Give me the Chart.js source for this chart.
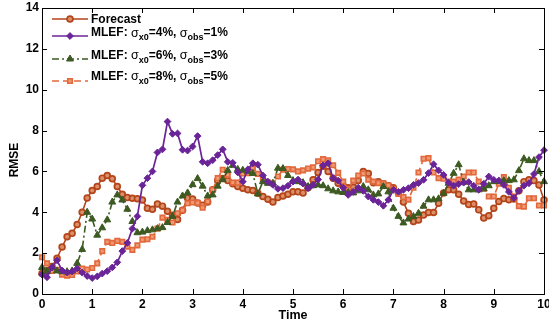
<!DOCTYPE html>
<html>
<head>
<meta charset="utf-8">
<script src="https://cdn.jsdelivr.net/npm/chart.js@4.4.1/dist/chart.umd.min.js"></script>
<style>
  html, body { margin: 0; padding: 0; background: #fff; }
  #wrap { width: 549px; height: 325px; position: relative; }
</style>
</head>
<body>
<div id="wrap"><canvas id="c" width="549" height="325"></canvas></div>
<script>
const times = [0,0.1,0.2,0.3,0.4,0.5,0.6,0.7,0.8,0.9,
  1,1.1,1.2,1.3,1.4,1.5,1.6,1.7,1.8,1.9,
  2,2.1,2.2,2.3,2.4,2.5,2.6,2.7,2.8,2.9,
  3,3.1,3.2,3.3,3.4,3.5,3.6,3.7,3.8,3.9,
  4,4.1,4.2,4.3,4.4,4.5,4.6,4.7,4.8,4.9,
  5,5.1,5.2,5.3,5.4,5.5,5.6,5.7,5.8,5.9,
  6,6.1,6.2,6.3,6.4,6.5,6.6,6.7,6.8,6.9,
  7,7.1,7.2,7.3,7.4,7.5,7.6,7.7,7.8,7.9,
  8,8.1,8.2,8.3,8.4,8.5,8.6,8.7,8.8,8.9,
  9,9.1,9.2,9.3,9.4,9.5,9.6,9.7,9.8,9.9,
  10];

const forecast = [1.0,1.15,1.35,1.75,2.3,2.8,2.97,3.4,4.0,4.7,
  5.07,5.26,5.67,5.8,5.64,5.26,4.88,4.72,4.69,4.66,
  4.6,4.2,4.15,4.4,4.3,4.05,3.85,3.65,4.1,4.7,
  4.65,4.45,4.35,4.5,5.1,5.55,5.65,5.55,5.4,5.26,
  5.18,5.1,5.07,4.93,4.77,4.64,4.5,4.72,4.8,4.88,
  5.0,5.0,4.95,5.2,5.59,5.95,6.25,6.0,5.67,5.42,
  5.3,5.2,5.22,5.55,6.0,5.9,5.45,5.5,5.4,5.3,
  5.2,4.95,4.5,3.95,3.55,3.62,3.87,3.99,3.99,4.44,
  4.95,5.1,5.1,4.88,4.55,4.38,4.4,4.12,3.72,3.83,
  4.2,4.53,4.67,4.61,4.65,5.05,5.5,5.59,5.55,5.34,
  4.6];

const mlef4_1 = [0.95,0.82,1.3,1.65,1.15,1.05,1.1,1.25,1.05,0.88,
  0.78,0.86,1.0,1.12,1.3,1.55,2.1,2.5,3.2,3.8,
  5.32,5.67,6.0,6.93,7.08,8.44,7.84,7.86,7.06,7.02,
  7.22,7.73,6.47,6.4,6.55,6.8,7.08,6.47,6.42,5.95,
  5.5,6.1,6.4,6.33,5.8,5.5,5.34,5.15,5.18,5.3,
  5.5,5.6,5.4,5.18,5.34,5.6,6.3,6.4,5.67,5.55,
  5.2,4.85,5.0,5.2,5.05,4.77,4.61,4.5,4.32,4.61,
  5.1,5.0,5.1,5.18,5.34,5.43,5.59,5.92,6.35,6.05,
  5.83,5.45,5.3,5.38,5.45,5.48,5.3,5.1,5.4,5.75,
  5.59,5.55,5.34,5.0,4.7,5.05,5.3,5.42,5.87,6.7,
  7.04];

const mlef6_3 = [1.3,1.1,1.3,1.13,1.09,1.09,1.13,1.5,2.18,4.0,
  3.67,2.88,3.24,3.63,4.5,4.85,4.6,4.15,3.55,3.0,
  3.03,3.1,3.14,3.2,3.25,3.5,3.8,4.5,4.8,4.95,
  5.35,5.65,5.28,4.8,4.85,5.28,5.6,6.05,6.3,6.1,
  6.06,6.0,5.9,4.9,5.5,5.42,5.42,6.16,6.14,5.8,
  5.55,5.5,5.45,5.26,5.3,5.34,5.3,5.15,5.05,5.0,
  4.97,4.97,4.95,5.05,5.26,5.1,4.85,4.9,5.26,5.0,
  4.2,3.8,3.48,3.67,3.79,3.95,4.3,4.61,4.61,4.66,
  4.93,5.42,5.91,6.33,5.47,5.1,5.1,5.1,5.15,5.3,
  5.5,5.51,5.55,5.55,5.59,6.04,6.62,6.53,6.53,6.0,
  5.5];

const mlef8_5 = [1.8,1.5,1.13,1.18,0.95,0.9,0.93,1.1,1.25,1.2,
  1.27,1.5,2.1,2.55,2.5,2.6,2.55,2.32,2.16,2.38,
  2.66,2.68,2.8,3.2,3.74,3.63,3.5,3.95,4.1,4.44,
  4.48,4.46,4.22,4.53,5.1,5.67,6.08,5.83,5.46,5.45,
  5.9,5.92,6.16,5.88,5.62,5.46,5.42,5.75,6.08,6.12,
  6.1,6.0,6.05,6.14,6.2,6.5,6.6,6.55,6.3,5.93,
  5.5,5.12,5.55,5.8,5.9,5.6,5.5,5.43,5.42,5.32,
  5.15,4.9,4.75,4.62,5.2,5.95,6.62,6.65,5.95,5.67,
  5.64,5.5,5.5,5.6,5.75,5.95,5.95,5.5,5.15,4.77,
  4.77,5.4,5.72,5.2,4.77,4.3,4.28,4.69,4.69,4.33,
  4.33];

const xTickValues = [0,1,2,3,4,5,6,7,8,9,10];
const yTickValues = [0,2,4,6,8,10,12,14];
const xTitle = 'Time';
const yTitle = 'RMSE';

// legend text runs (with subscripts)
const legendLabels = [
  [{t:'Forecast'}],
  [{t:'MLEF: '},{t:'σ',g:1},{t:'x0',s:1},{t:'=4%, '},{t:'σ',g:1},{t:'obs',s:1},{t:'=1%'}],
  [{t:'MLEF: '},{t:'σ',g:1},{t:'x0',s:1},{t:'=6%, '},{t:'σ',g:1},{t:'obs',s:1},{t:'=3%'}],
  [{t:'MLEF: '},{t:'σ',g:1},{t:'x0',s:1},{t:'=8%, '},{t:'σ',g:1},{t:'obs',s:1},{t:'=5%'}]
];

const FONT = '"Liberation Sans", Arial, Helvetica, sans-serif';
const C_FC = '#b4441a', C_P = '#6a2497', C_G = '#3d5a22', C_O = '#e2693c';

function series(vals){ return vals.map((v,i)=>({x:times[i], y:v})); }

const datasets = [
  {label:'Forecast', data:series(forecast), borderColor:C_FC, backgroundColor:C_FC,
   pointStyle:'circle', pointRadius:2.9, pointBorderWidth:1.7, pointBorderColor:C_FC, pointBackgroundColor:'#dc9068',
   borderWidth:1.6, borderDash:[], order:4},
  {label:'MLEF 4/1', data:series(mlef4_1), borderColor:C_P, backgroundColor:C_P,
   pointStyle:'rectRot', pointRadius:3.4, pointBorderWidth:1, pointBorderColor:C_P, pointBackgroundColor:C_P,
   borderWidth:1.7, borderDash:[], order:1},
  {label:'MLEF 6/3', data:series(mlef6_3), borderColor:C_G, backgroundColor:C_G,
   pointStyle:'triangle', pointRadius:4, pointBorderWidth:1, pointBorderColor:C_G, pointBackgroundColor:C_G,
   borderWidth:1.6, borderDash:[7,3,2,3], order:2},
  {label:'MLEF 8/5', data:series(mlef8_5), borderColor:C_O, backgroundColor:C_O,
   pointStyle:'rect', pointRadius:3.2, pointBorderWidth:1.6, pointBorderColor:C_O, pointBackgroundColor:'#ef9a74',
   borderWidth:1.6, borderDash:[7,4], order:3}
];
datasets.forEach(d=>{ d.tension=0; d.fill=false; d.clip=6; d.pointHoverRadius=d.pointRadius; });

const framePlugin = {
  id:'frame',
  afterDraw(chart){
    const {ctx, chartArea:a, scales:{x, y}} = chart;
    ctx.save();
    ctx.strokeStyle = '#000';
    ctx.lineWidth = 1;
    ctx.strokeRect(Math.round(a.left)+0.5, Math.round(a.top)+0.5, Math.round(a.right-a.left), Math.round(a.bottom-a.top));
    const L = 5;
    ctx.beginPath();
    x.ticks.forEach(t=>{
      const px = Math.round(x.getPixelForValue(t.value))+0.5;
      ctx.moveTo(px, a.bottom); ctx.lineTo(px, a.bottom-L);
      ctx.moveTo(px, a.top); ctx.lineTo(px, a.top+L);
    });
    y.ticks.forEach(t=>{
      const py = Math.round(y.getPixelForValue(t.value))+0.5;
      ctx.moveTo(a.left, py); ctx.lineTo(a.left+L, py);
      ctx.moveTo(a.right, py); ctx.lineTo(a.right-L, py);
    });
    ctx.stroke();
    // y axis title (rotated), positioned as in the reference
    ctx.fillStyle = '#000';
    ctx.font = 'bold 12px ' + FONT;
    ctx.textAlign = 'center';
    ctx.textBaseline = 'middle';
    ctx.translate(15, 160);
    ctx.rotate(-Math.PI/2);
    ctx.fillText(yTitle, 0, 0);
    ctx.restore();
  }
};

const legendPlugin = {
  id:'legendSub',
  afterDraw(chart){
    const ctx = chart.ctx;
    const rowsLine = [19, 36, 59, 81];
    const rowsText = [20, 33, 55.5, 76.5];
    const x0 = 52, x1 = 88, xm = 70, tx = 91;
    ctx.save();
    chart.data.datasets.forEach((d, i)=>{
      const yl = rowsLine[i];
      ctx.strokeStyle = d.borderColor;
      ctx.lineWidth = 1.6;
      ctx.setLineDash(d.borderDash || []);
      ctx.beginPath(); ctx.moveTo(x0, yl); ctx.lineTo(x1, yl); ctx.stroke();
      ctx.setLineDash([]);
      ctx.fillStyle = d.pointBackgroundColor;
      ctx.strokeStyle = d.pointBorderColor;
      ctx.lineWidth = d.pointBorderWidth;
      Chart.helpers.drawPoint(ctx, {pointStyle:d.pointStyle, radius:d.pointRadius, rotation:0, borderWidth:d.pointBorderWidth}, xm, yl);
      let x = tx;
      const yt = rowsText[i];
      ctx.fillStyle = '#000';
      ctx.textBaseline = 'middle';
      ctx.textAlign = 'left';
      legendLabels[i].forEach(r=>{
        if (r.s) { ctx.font = 'bold 9px ' + FONT; ctx.fillText(r.t, x, yt + 5); }
        else if (r.g) { ctx.font = '12.5px ' + FONT; ctx.fillText(r.t, x, yt + 0.5); }
        else { ctx.font = 'bold 12px ' + FONT; ctx.fillText(r.t, x, yt); }
        x += ctx.measureText(r.t).width;
      });
    });
    ctx.restore();
  }
};

new Chart(document.getElementById('c'), {
  type:'line',
  data:{ datasets },
  options:{
    responsive:false, animation:false, devicePixelRatio:1,
    layout:{ padding:{ top:8, right:3, left:0, bottom:0 } },
    plugins:{ legend:{display:false}, tooltip:{enabled:false} },
    scales:{
      x:{
        type:'linear', min:0, max:10,
        afterBuildTicks(s){ s.ticks = xTickValues.map(v=>({value:v})); },
        ticks:{ font:{family:FONT, size:12, weight:'bold'}, color:'#000', padding:3, maxRotation:0, autoSkip:false },
        grid:{ display:false, drawTicks:false },
        border:{ display:false },
        title:{ display:true, text:xTitle, color:'#000', font:{family:FONT, size:12.5, weight:'bold'}, padding:{top:0, bottom:2} },
        afterFit(s){ s.height = 31; s.paddingLeft = 0; s.paddingRight = 0; }
      },
      y:{
        type:'linear', min:0, max:14,
        afterBuildTicks(s){ s.ticks = yTickValues.map(v=>({value:v})); },
        ticks:{ font:{family:FONT, size:12, weight:'bold'}, color:'#000', padding:3 },
        grid:{ display:false, drawTicks:false },
        border:{ display:false },
        title:{ display:false },
        afterFit(s){ s.width = 42; s.paddingTop = 0; s.paddingBottom = 0; }
      }
    }
  },
  plugins:[framePlugin, legendPlugin]
});
</script>
</body>
</html>
